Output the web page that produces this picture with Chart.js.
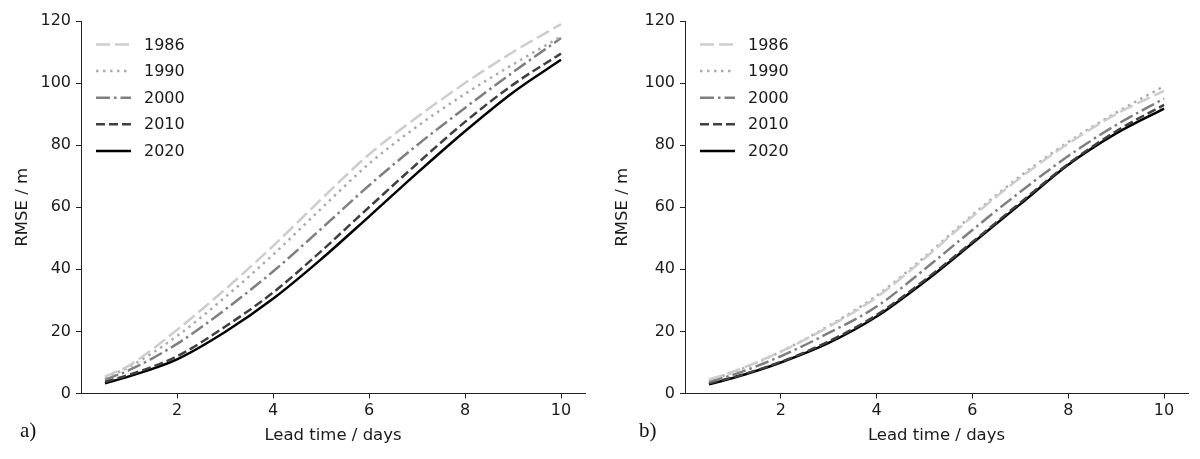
<!DOCTYPE html>
<html>
<head>
<meta charset="utf-8">
<script src="https://cdn.jsdelivr.net/npm/chart.js@4.4.1/dist/chart.umd.min.js"></script>
<style>
  html, body { margin: 0; padding: 0; background: #fff; }
  #wrap { position: relative; width: 1200px; height: 459px; overflow: hidden; }
  canvas { position: absolute; top: 0; }
  .panel { position: absolute; font-family: 'Liberation Serif', serif; font-size: 21px; color: #111; line-height: 1; }
</style>
</head>
<body>
<div id="wrap">
  <canvas id="chartA" width="600" height="459" style="left:0"></canvas>
  <canvas id="chartB" width="600" height="459" style="left:600px"></canvas>
  <div class="panel" style="left:20px; top:420px">a)</div>
  <div class="panel" style="left:639px; top:420px">b)</div>
</div>
<script>
// lead times (days) and tick labels
const leadTimes = [0.5, 1, 2, 3, 4, 5, 6, 7, 8, 9, 10];
const xTickValues = [2, 4, 6, 8, 10];
const yTickValues = [0, 20, 40, 60, 80, 100, 120];
const years = ['1986', '1990', '2000', '2010', '2020'];

// panel a) RMSE / m
const rmseA1986 = [5.5, 9.0, 20.5, 33.5, 47.5, 62.5, 77.0, 89.0, 100.0, 110.0, 119.0];
const rmseA1990 = [5.0, 8.5, 18.5, 31.0, 44.7, 59.5, 74.0, 86.0, 96.5, 106.0, 115.0];
const rmseA2000 = [4.5, 7.5, 16.0, 27.0, 39.3, 53.0, 67.0, 80.0, 92.0, 103.5, 114.5];
const rmseA2010 = [3.8, 6.0, 12.0, 21.5, 32.5, 45.8, 60.0, 74.0, 87.5, 99.5, 109.5];
const rmseA2020 = [3.3, 5.5, 11.0, 19.8, 30.5, 43.2, 57.0, 71.0, 84.5, 97.0, 107.5];

// panel b) RMSE / m
const rmseB1986 = [4.5, 7.0, 13.5, 21.5, 31.0, 43.5, 57.0, 69.5, 80.5, 90.0, 97.5];
const rmseB1990 = [4.3, 6.8, 13.5, 21.8, 31.5, 44.0, 57.5, 70.0, 81.0, 90.5, 99.0];
const rmseB2000 = [3.8, 6.0, 12.0, 19.5, 28.0, 40.0, 52.7, 65.0, 76.5, 86.5, 95.0];
const rmseB2010 = [3.3, 5.2, 10.2, 16.8, 25.3, 36.5, 48.8, 61.5, 74.0, 84.5, 93.0];
const rmseB2020 = [3.0, 5.0, 10.0, 16.3, 24.8, 36.0, 48.4, 61.0, 73.7, 83.8, 91.8];

// line styles per year
const lineColors = ['#cdcdcd', '#ababab', '#7f7f7f', '#404040', '#000000'];
const lineDashes = [[14, 5], [2.5, 4.5], [14, 4, 2.5, 4], [9, 4], []];

const FONT = "'DejaVu Sans', sans-serif";
const TEXT = '#1a1a1a';

function makeDatasets(series) {
  return series.map((vals, i) => ({
    label: years[i],
    data: leadTimes.map((t, j) => ({ x: t, y: vals[j] })),
    borderColor: lineColors[i],
    borderDash: lineDashes[i],
    borderWidth: 2.5,
    pointRadius: 0,
    fill: false,
    cubicInterpolationMode: 'monotone'
  }));
}

// legend drawn inside the plot, top left
const legendInside = {
  id: 'legendInside',
  afterDatasetsDraw(chart) {
    const ctx = chart.ctx;
    const area = chart.chartArea;
    ctx.save();
    ctx.font = '16px ' + FONT;
    ctx.textBaseline = 'middle';
    chart.data.datasets.forEach((ds, i) => {
      const y = area.top + 23.5 + i * 26.6;
      ctx.strokeStyle = ds.borderColor;
      ctx.lineWidth = ds.borderWidth;
      ctx.setLineDash(ds.borderDash);
      ctx.beginPath();
      ctx.moveTo(area.left + 15, y);
      ctx.lineTo(area.left + 50, y);
      ctx.stroke();
      ctx.setLineDash([]);
      ctx.fillStyle = TEXT;
      ctx.fillText(ds.label, area.left + 63, y + 1);
    });
    ctx.restore();
  }
};

function makeConfig(series, yWidth, padRight) {
  return {
    type: 'line',
    data: { datasets: makeDatasets(series) },
    options: {
      responsive: false,
      animation: false,
      devicePixelRatio: 1,
      layout: { padding: { left: 0, top: 21, right: padRight, bottom: 0 } },
      plugins: { legend: { display: false }, tooltip: { enabled: false } },
      scales: {
        x: {
          type: 'linear',
          min: 0,
          max: 10.5,
          afterBuildTicks: (s) => { s.ticks = xTickValues.map(v => ({ value: v })); },
          afterFit: (s) => { s.height = 65.5; },
          grid: { drawOnChartArea: false, drawTicks: true, tickLength: 5, color: '#222' },
          border: { display: true, color: '#222', width: 1 },
          ticks: { color: TEXT, font: { family: FONT, size: 16 }, padding: 3, maxRotation: 0 },
          title: { display: true, text: 'Lead time / days', color: TEXT,
                   font: { family: FONT, size: 16.5 }, padding: { top: 0, bottom: 13 } }
        },
        y: {
          min: 0,
          max: 120,
          afterBuildTicks: (s) => { s.ticks = yTickValues.map(v => ({ value: v })); },
          afterFit: (s) => { s.width = yWidth; },
          grid: { drawOnChartArea: false, drawTicks: true, tickLength: 5, color: '#222' },
          border: { display: true, color: '#222', width: 1 },
          ticks: { color: TEXT, font: { family: FONT, size: 16 }, padding: 5 },
          title: { display: true, text: 'RMSE / m', color: TEXT,
                   font: { family: FONT, size: 16.5 }, padding: { top: 13, bottom: 0 } }
        }
      }
    },
    plugins: [legendInside]
  };
}

const chartA = new Chart(
  document.getElementById('chartA'),
  makeConfig([rmseA1986, rmseA1990, rmseA2000, rmseA2010, rmseA2020], 81, 15)
);

const chartB = new Chart(
  document.getElementById('chartB'),
  makeConfig([rmseB1986, rmseB1990, rmseB2000, rmseB2010, rmseB2020], 85, 12)
);
</script>
</body>
</html>
